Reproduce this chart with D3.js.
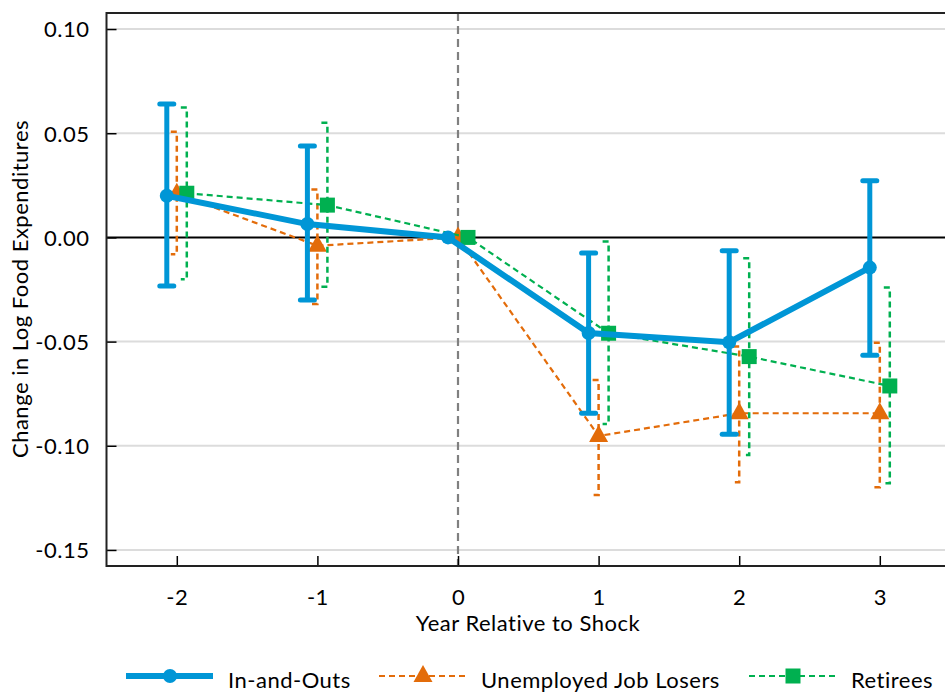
<!DOCTYPE html>
<html>
<head>
<meta charset="utf-8">
<script src="https://cdn.jsdelivr.net/npm/d3@7"></script>
<style>
  body { margin: 0; background: #fff; }
  svg { display: block; font-family: Lato, "Open Sans", sans-serif; }
  text { letter-spacing: 0.5px; }
</style>
</head>
<body>
<svg id="chart" width="945" height="692"></svg>
<script>
// years relative to shock
var years = [-2, -1, 0, 1, 2, 3];
var yTicks = [0.10, 0.05, 0.00, -0.05, -0.10, -0.15];

// point estimates and 95% bounds
var inOutEst = [0.020, 0.0064, 0.000, -0.0459, -0.0503, -0.0145];
var inOutHi  = [0.064, 0.0439, 0.000, -0.0075, -0.0064, 0.0272];
var inOutLo  = [-0.0233, -0.030, 0.000, -0.0844, -0.0945, -0.0566];

var loserEst = [0.021, -0.004, 0.000, -0.0953, -0.0844, -0.0844];
var loserHi  = [0.0507, 0.023, 0.000, -0.0684, -0.0524, -0.0505];
var loserLo  = [-0.0081, -0.032, 0.000, -0.1236, -0.1175, -0.1199];

var retireEst = [0.0212, 0.0155, 0.000, -0.046, -0.0572, -0.0713];
var retireHi  = [0.0624, 0.055, 0.000, -0.002, -0.010, -0.0241];
var retireLo  = [-0.0201, -0.0237, 0.000, -0.0895, -0.1044, -0.118];

var svg = d3.select("#chart");
var plotLeft = 106.5, plotTop = 13, plotBottom = 566;
var fontSize = "22px";

var x = d3.scaleLinear().domain([-2.5, 3.5]).range([plotLeft, plotLeft + 6 * 140.6]);
var y = d3.scaleLinear().domain([0.1077, -0.1577]).range([plotTop, plotBottom]);

// hyphen instead of unicode minus, as in the original
function hyph(f) { return function(d) { return f(d).replace("\u2212", "-"); }; }

// gridlines
svg.append("g").selectAll("line")
    .data(yTicks.filter(function(d) { return d != 0; }))
    .enter().append("line")
    .attr("x1", plotLeft).attr("x2", 945)
    .attr("y1", function(d) { return y(d); })
    .attr("y2", function(d) { return y(d); })
    .style("stroke", "#dcdcdc")
    .style("stroke-width", 2);

// zero line
svg.append("line")
    .attr("x1", plotLeft).attr("x2", 945)
    .attr("y1", y(0)).attr("y2", y(0))
    .style("stroke", "#000").style("stroke-width", 2);

// shock line
svg.append("line")
    .attr("x1", x(0)).attr("x2", x(0))
    .attr("y1", plotTop).attr("y2", plotBottom)
    .style("stroke", "#808080").style("stroke-width", 2.2)
    .style("stroke-dasharray", "8,5");

// axes
var yAxis = d3.axisLeft(y).tickValues(yTicks).tickSize(-10).tickPadding(17)
    .tickFormat(hyph(d3.format(".2f")));
var gy = svg.append("g").attr("transform", "translate(" + plotLeft + ",0)").call(yAxis);

var xAxis = d3.axisBottom(x).tickValues(years).tickSize(-10).tickPadding(23)
    .tickFormat(hyph(d3.format("d")));
var gx = svg.append("g").attr("transform", "translate(0," + plotBottom + ")").call(xAxis);

[gx, gy].forEach(function(g) {
    g.select(".domain").remove();
    g.selectAll(".tick line").style("stroke", "#000").style("stroke-width", 1.5);
    g.selectAll(".tick text").style("font-size", fontSize).style("fill", "#000")
        .style("font-family", "Lato, 'Open Sans', sans-serif");
});
gy.selectAll(".tick text").attr("dy", "0.36em");

// frame (left, top, bottom)
svg.append("path")
    .attr("d", "M945," + plotTop + "H" + plotLeft + "V" + plotBottom + "H945")
    .style("fill", "none").style("stroke", "#222").style("stroke-width", 2);

svg.append("text")
    .attr("x", 528).attr("y", 631)
    .attr("text-anchor", "middle")
    .style("font-size", fontSize)
    .text("Year Relative to Shock");

svg.append("text")
    .attr("transform", "translate(28,289) rotate(-90)")
    .attr("text-anchor", "middle")
    .style("font-size", fontSize)
    .text("Change in Log Food Expenditures");

var series = [
    { name: "In-and-Outs", est: inOutEst, hi: inOutHi, lo: inOutLo,
      color: "#0096d6", shift: -10, width: 6, dash: null, marker: "circle" },
    { name: "Unemployed Job Losers", est: loserEst, hi: loserHi, lo: loserLo,
      color: "#e36c0a", shift: 0, width: 2.2, dash: "6,4", marker: "triangle" },
    { name: "Retirees", est: retireEst, hi: retireHi, lo: retireLo,
      color: "#00b050", shift: 10, width: 2.2, dash: "6,4", marker: "square" }
];

function drawMarker(g, type, color) {
    if (type == "circle") {
        g.append("circle").attr("r", 7).style("fill", color);
    } else if (type == "triangle") {
        g.append("path").attr("d", "M0,-11L9.5,6L-9.5,6Z").style("fill", color);
    } else {
        g.append("rect").attr("x", -7.5).attr("y", -7.5)
            .attr("width", 15).attr("height", 15).style("fill", color);
    }
}

// dashed series first, solid blue on top
[series[1], series[2], series[0]].forEach(function(s) {
    var g = svg.append("g");
    var px = function(i) { return x(years[i]) + s.shift; };
    var idx = d3.range(years.length);

    // error bars (none at 0)
    idx.filter(function(i) { return years[i] != 0; }).forEach(function(i) {
        var bar = g.append("g").style("stroke", s.color).style("fill", "none");
        if (s.dash) {
            bar.append("path")
                .attr("d", "M" + (px(i) - 6) + "," + y(s.hi[i]) + "H" + px(i) +
                    "V" + y(s.lo[i]) + "H" + (px(i) - 6))
                .style("stroke-width", 2.5)
                .style("stroke-dasharray", s.dash);
        } else {
            bar.append("line")
                .attr("x1", px(i)).attr("x2", px(i))
                .attr("y1", y(s.hi[i])).attr("y2", y(s.lo[i]))
                .style("stroke-width", 5);
            [s.hi[i], s.lo[i]].forEach(function(v) {
                bar.append("line")
                    .attr("x1", px(i) - 7).attr("x2", px(i) + 7)
                    .attr("y1", y(v)).attr("y2", y(v))
                    .style("stroke-width", 5)
                    .style("stroke-linecap", "round");
            });
        }
    });

    var line = d3.line()
        .x(function(i) { return px(i); })
        .y(function(i) { return y(s.est[i]); });
    g.append("path")
        .attr("d", line(idx))
        .style("fill", "none")
        .style("stroke", s.color)
        .style("stroke-width", s.width)
        .style("stroke-dasharray", s.dash);

    g.selectAll("g.mk")
        .data(idx)
        .enter().append("g")
        .classed("mk", true)
        .attr("transform", function(i) { return "translate(" + px(i) + "," + y(s.est[i]) + ")"; })
        .each(function() { drawMarker(d3.select(this), s.marker, s.color); });
});

// legend
var legendX = [126, 379, 749];
series.forEach(function(s, k) {
    var g = svg.append("g").attr("transform", "translate(" + legendX[k] + ",676)");
    g.append("line")
        .attr("x1", 0).attr("x2", 87)
        .style("stroke", s.color)
        .style("stroke-width", s.dash ? 2.2 : 6)
        .style("stroke-dasharray", s.dash);
    var m = g.append("g").attr("transform", "translate(44,0)");
    drawMarker(m, s.marker, s.color);
    g.append("text")
        .attr("x", 102).attr("y", 12)
        .style("font-size", fontSize)
        .text(s.name);
});
</script>
</body>
</html>
